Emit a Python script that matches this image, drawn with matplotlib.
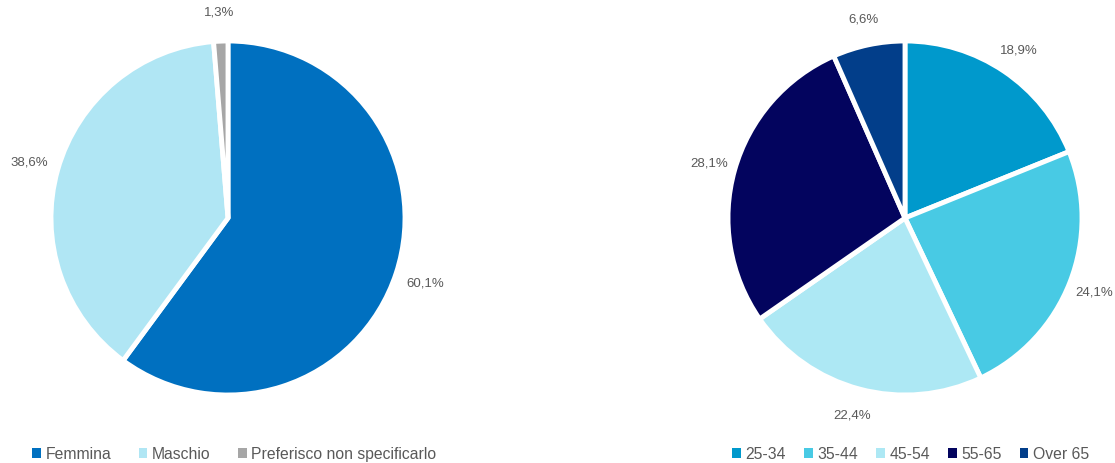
import matplotlib.pyplot as plt
from matplotlib.patches import Patch

# data
gender_labels = ['Femmina', 'Maschio', 'Preferisco non specificarlo']
gender_values = [60.1, 38.6, 1.3]
gender_colors = ['#0070C0', '#B0E6F4', '#A6A6A6']

age_labels = ['25-34', '35-44', '45-54', '55-65', 'Over 65']
age_values = [18.9, 24.1, 22.4, 28.1, 6.6]
age_colors = ['#0099CC', '#48CAE4', '#ADE8F4', '#03045E', '#023E8A']

plt.rcParams['font.family'] = ['Liberation Sans Narrow', 'Liberation Sans', 'DejaVu Sans']
txt = '#595959'

W, H = 1115, 464
fig = plt.figure(figsize=(W / 100, H / 100), dpi=100)

def fmt(p):
    return ('%.1f%%' % p).replace('.', ',')

def draw_pie(cx, cy, r, values, colors, labels, legx, colsp, pdist):
    # axes sized so that radius 1 == r pixels
    ax = fig.add_axes([(cx - r) / W, 1 - (cy + r) / H, 2 * r / W, 2 * r / H])
    ax.pie(values, colors=colors, startangle=90, counterclock=False,
           autopct=fmt, pctdistance=pdist,
           textprops=dict(color=txt, fontsize=9.5),
           wedgeprops=dict(edgecolor='white', linewidth=3.5))
    ax.set_xlim(-1, 1)
    ax.set_ylim(-1, 1)
    ax.set_aspect('equal')
    handles = [Patch(facecolor=c, label=l) for c, l in zip(colors, labels)]
    fig.legend(handles=handles, loc='center left', bbox_to_anchor=(legx / W, 1 - 455 / H),
               ncol=len(labels), frameon=False, fontsize=11.3, labelcolor=txt,
               handlelength=0.55, handleheight=0.55, handletextpad=0.3,
               columnspacing=colsp, borderaxespad=0, borderpad=0)

draw_pie(228, 219, 177, gender_values, gender_colors, gender_labels, 32, 1.75, 1.17)
draw_pie(905, 219, 177, age_values, age_colors, age_labels, 732, 1.15, 1.15)

fig.savefig('out.png', dpi=100)
